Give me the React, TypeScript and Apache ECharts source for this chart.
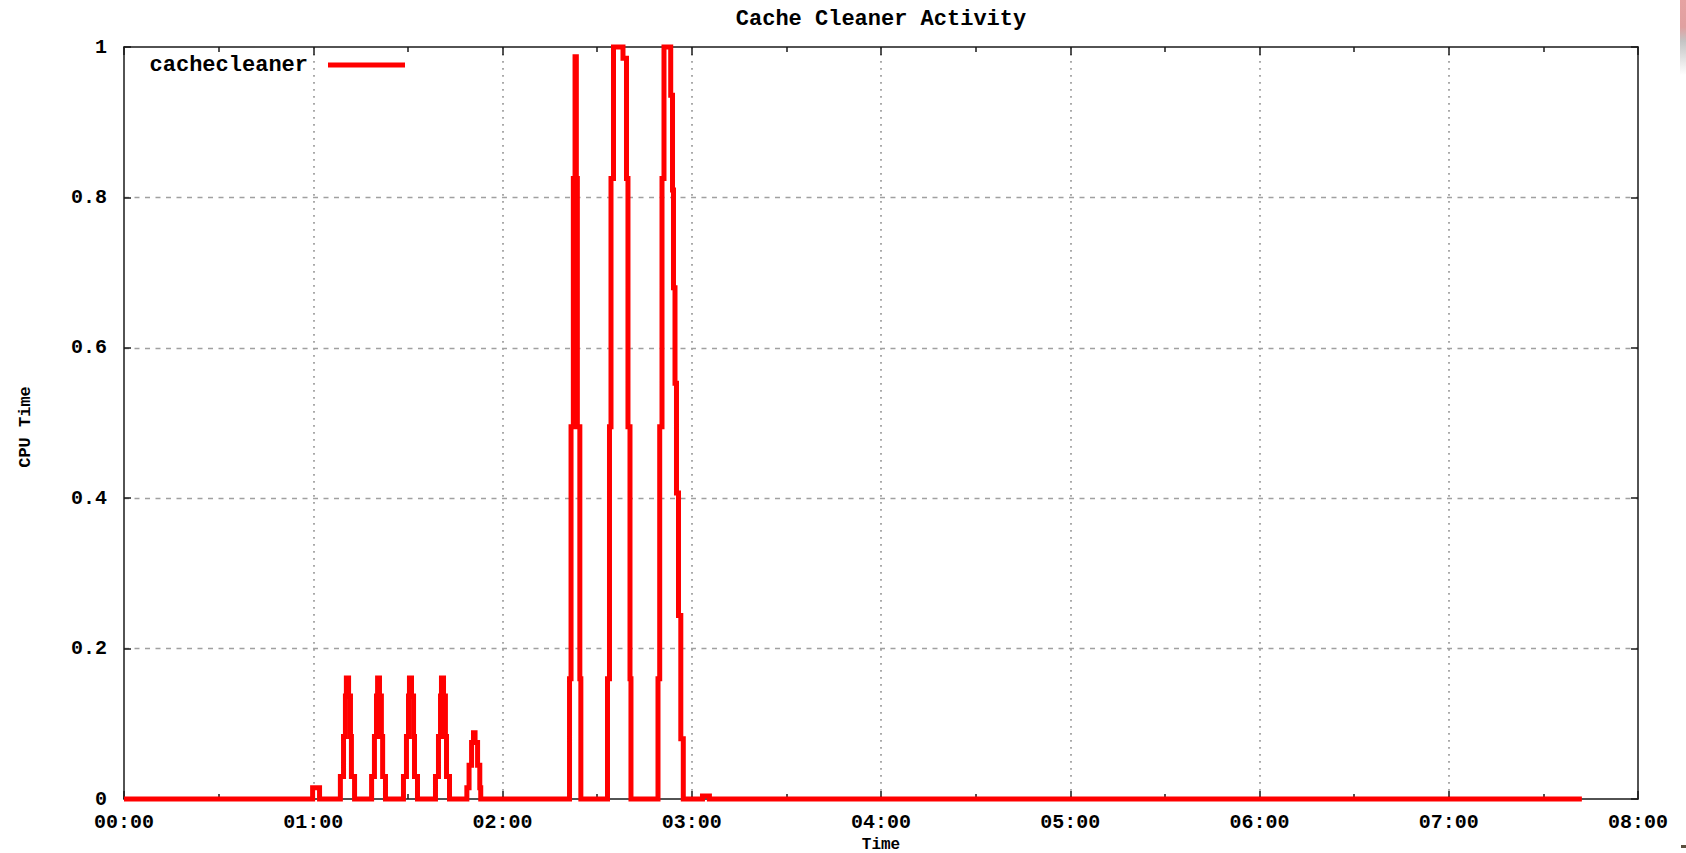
import React, { useEffect, useRef } from 'react';
import * as echarts from 'echarts';

const TITLE = 'Cache Cleaner Activity';
const SERIES_NAME = 'cachecleaner';
const X_NAME = 'Time';
const Y_NAME = 'CPU Time';

const xTickLabels = ['00:00', '01:00', '02:00', '03:00', '04:00', '05:00', '06:00', '07:00', '08:00'];
const yTickLabels = ['0', '0.2', '0.4', '0.6', '0.8', '1'];

// time in minutes since 00:00 at which the value changes (step plot)
const timeMin = [
  0,
  59.8, 62.0,
  68.6, 69.6, 70.2, 70.5, 71.2, 71.8, 72.1, 73.1,
  78.5, 79.4, 80.05, 80.4, 81.0, 81.6, 82.0, 82.9,
  88.6, 89.55, 90.2, 90.5, 91.15, 91.8, 92.1, 93.05,
  98.75, 99.7, 100.35, 100.65, 101.3, 101.9, 102.25, 103.2,
  108.7, 109.4, 110.2, 110.8, 111.3, 112.1, 112.8, 113.1,
  141.25, 141.73, 142.46, 143.0, 143.41, 143.73, 144.52, 144.84,
  153.29, 153.92, 154.4, 155.19, 158.2, 159.31, 159.78, 160.42, 160.73,
  169.3, 169.84, 170.57, 171.2, 173.33, 173.9, 174.21, 174.69, 175.16, 175.8, 176.53, 177.32,
  183.4, 185.6,
  462.2,
];
const cpuTime = [
  0,
  0.015, 0,
  0.03, 0.083, 0.137, 0.161, 0.137, 0.083, 0.03, 0,
  0.03, 0.083, 0.137, 0.161, 0.137, 0.083, 0.03, 0,
  0.03, 0.083, 0.137, 0.161, 0.137, 0.083, 0.03, 0,
  0.03, 0.083, 0.137, 0.161, 0.137, 0.083, 0.03, 0,
  0.015, 0.045, 0.075, 0.088, 0.075, 0.045, 0.015, 0,
  0.16, 0.495, 0.825, 0.987, 0.825, 0.495, 0.16, 0,
  0.16, 0.495, 0.825, 1.0, 0.985, 0.825, 0.495, 0.16, 0,
  0.16, 0.495, 0.825, 1.0, 0.936, 0.81, 0.68, 0.553, 0.407, 0.244, 0.08, 0,
  0.004, 0,
  0,
];

export default function App() {
  const ref = useRef<HTMLDivElement>(null);
  useEffect(() => {
    const chart = echarts.init(ref.current as HTMLDivElement, null, { renderer: 'svg' });
    const font = '"Liberation Mono", "DejaVu Sans Mono", monospace';
    const axisColor = '#1a1a1a';
    const txt = { fontFamily: font, fontWeight: 'bold' as const, fontSize: 22, color: '#000' };
    const tickTxt = { ...txt, fontSize: 20, lineHeight: 16 };
    const axisLine = { show: true, onZero: false, lineStyle: { color: axisColor, width: 1.5 } };
    const xTick = { show: true, inside: true, length: 8, lineStyle: { color: axisColor, width: 1.5 } };
    const xMinor = { show: true, splitNumber: 2, length: 5, lineStyle: { color: axisColor, width: 1.5 } };
    const yTick = { show: true, inside: true, length: 7, lineStyle: { color: axisColor, width: 1.5 } };

    chart.setOption({
      animation: false,
      backgroundColor: '#ffffff',
      title: {
        text: TITLE,
        left: 881,
        top: 8,
        textAlign: 'center',
        padding: 0,
        textStyle: txt,
      },
      legend: {
        data: [SERIES_NAME],
        right: 1281,
        top: 54,
        padding: 0,
        align: 'right',
        icon: 'rect',
        itemWidth: 77,
        itemHeight: 5,
        selectedMode: false,
        textStyle: { ...txt, padding: [0, 15, 0, 0] },
      },
      grid: {
        left: 124,
        right: 48,
        top: 47,
        bottom: 54,
        show: false,
        containLabel: false,
        outerBoundsMode: 'none',
      },
      xAxis: [
        {
          type: 'value',
          min: 0,
          max: 480,
          interval: 60,
          position: 'bottom',
          name: X_NAME,
          nameLocation: 'middle',
          nameGap: 35,
          nameTextStyle: { ...txt, fontSize: 16, lineHeight: 16 },
          axisLine,
          axisTick: xTick,
          minorTick: xMinor,
          axisLabel: {
            margin: 15,
            ...tickTxt,
            formatter: (v: number) => xTickLabels[Math.round(v / 60)] ?? '',
          },
          splitLine: {
            show: true,
            showMinLine: false,
            showMaxLine: false,
            lineStyle: { color: '#a0a0a0', width: 1.8, type: [1.8, 5.2] },
          },
        },
        {
          type: 'value',
          min: 0,
          max: 480,
          interval: 60,
          position: 'top',
          axisLine,
          axisTick: xTick,
          minorTick: xMinor,
          axisLabel: { show: false },
          splitLine: { show: false },
        },
      ],
      yAxis: [
        {
          type: 'value',
          min: 0,
          max: 1,
          interval: 0.2,
          position: 'left',
          name: Y_NAME,
          nameLocation: 'middle',
          nameGap: 90,
          nameRotate: 90,
          nameTextStyle: { ...txt, fontSize: 17, padding: [0, 8, 0, 0] },
          axisLine,
          axisTick: yTick,
          axisLabel: {
            margin: 17,
            ...tickTxt,
            formatter: (v: number) => yTickLabels[Math.round(v / 0.2)] ?? '',
          },
          splitLine: {
            show: true,
            showMinLine: false,
            showMaxLine: false,
            lineStyle: { color: '#a0a0a0', width: 1.3, type: [5, 5.5] },
          },
        },
        {
          type: 'value',
          min: 0,
          max: 1,
          interval: 0.2,
          position: 'right',
          axisLine,
          axisTick: yTick,
          axisLabel: { show: false },
          splitLine: { show: false },
        },
      ],
      series: [
        {
          type: 'line',
          name: SERIES_NAME,
          data: timeMin.map((t, i) => [t, cpuTime[i]]),
          step: 'end',
          symbol: 'none',
          clip: false,
          z: 3,
          itemStyle: { color: '#ff0000' },
          lineStyle: { color: '#ff0000', width: 5, join: 'miter' },
        },
      ],
      graphic: [
        {
          type: 'rect',
          silent: true,
          shape: { x: 1680, y: 0, width: 6, height: 75 },
          style: {
            fill: new echarts.graphic.LinearGradient(0, 0, 0, 1, [
              { offset: 0, color: '#e6a2a2' },
              { offset: 0.36, color: '#e0a0a0' },
              { offset: 0.55, color: '#c4c4c4' },
              { offset: 1, color: '#ffffff' },
            ]),
          },
        },
        {
          type: 'rect',
          silent: true,
          shape: { x: 1681, y: 845, width: 5, height: 3 },
          style: { fill: '#5a5040' },
        },
      ],
    });
    return () => chart.dispose();
  }, []);
  return (
    <div
      ref={ref}
      style={{ position: 'fixed', left: 0, top: 0, width: 1686, height: 853, background: '#ffffff' }}
    />
  );
}
